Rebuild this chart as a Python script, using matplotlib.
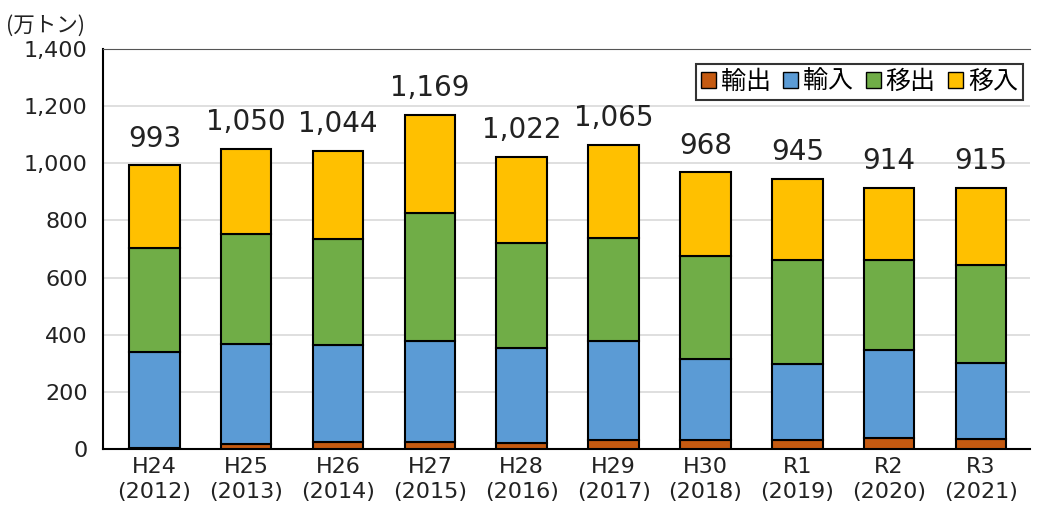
import matplotlib.pyplot as plt
import numpy as np

plt.rcParams['font.family'] = ['Noto Sans CJK JP', 'DejaVu Sans']

# data (万トン)
years = ['H24\n(2012)', 'H25\n(2013)', 'H26\n(2014)', 'H27\n(2015)', 'H28\n(2016)',
         'H29\n(2017)', 'H30\n(2018)', 'R1\n(2019)', 'R2\n(2020)', 'R3\n(2021)']
export_ = [5, 17, 24, 24, 22, 31, 33, 33, 40, 37]        # 輸出
import_ = [334, 351, 340, 354, 331, 347, 283, 264, 306, 264]  # 輸入
out_ = [363, 384, 370, 448, 367, 360, 358, 365, 316, 344]     # 移出
in_ = [291, 298, 310, 343, 302, 327, 294, 283, 252, 270]      # 移入
totals = [993, 1050, 1044, 1169, 1022, 1065, 968, 945, 914, 915]

series = [('輸出', export_, '#C55A11'),
          ('輸入', import_, '#5B9BD5'),
          ('移出', out_, '#70AD47'),
          ('移入', in_, '#FFC000')]

num_font = 'DejaVu Sans'
txt = '#222222'

fig = plt.figure(figsize=(10.4, 5.15), dpi=100)
ax = fig.add_axes([0.099, 0.128, 0.891, 0.777])

x = np.arange(len(years))
bottom = np.zeros(len(years))
for name, vals, color in series:
    ax.bar(x, vals, width=0.55, bottom=bottom, color=color, edgecolor='black',
           linewidth=1.5, label=name, zorder=3)
    bottom += np.array(vals)

for xi, t in zip(x, totals):
    ax.annotate(f'{t:,}', (xi, t), xytext=(0, 9), textcoords='offset points',
                ha='center', va='bottom', fontsize=20, color=txt, family=num_font)

ax.set_xlim(-0.56, len(years) - 0.47)
ax.set_ylim(0, 1400)
ax.set_yticks(range(0, 1401, 200))
ax.set_yticklabels([f'{v:,}' for v in range(0, 1401, 200)], family=num_font)
ax.set_xticks(x)
ax.set_xticklabels(years, linespacing=1.3, family=num_font)
ax.tick_params(axis='both', length=0, labelsize=16, colors=txt)
ax.tick_params(axis='x', pad=6)
ax.tick_params(axis='y', pad=11)

ax.grid(axis='y', color='#d9d9d9', linewidth=1.2, zorder=0)
ax.spines['right'].set_visible(False)
ax.spines['top'].set_color('#555555')
ax.spines['left'].set_color('black')
ax.spines['left'].set_linewidth(1.5)
ax.spines['bottom'].set_color('black')
ax.spines['bottom'].set_linewidth(1.5)

leg = ax.legend(loc='upper right', bbox_to_anchor=(0.993, 0.963), ncol=4,
                fontsize=18, frameon=True, fancybox=False, edgecolor='black',
                handlelength=0.6, handleheight=0.6, handletextpad=0.2,
                columnspacing=0.5, borderpad=0.2, borderaxespad=0)
leg.get_frame().set_linewidth(1.5)
for h in leg.legend_handles:
    h.set_linewidth(1.0)

fig.text(0.006, 0.95, '(万トン)', fontsize=15.5, color=txt, ha='left', va='center')

fig.savefig('out.png', dpi=100)
